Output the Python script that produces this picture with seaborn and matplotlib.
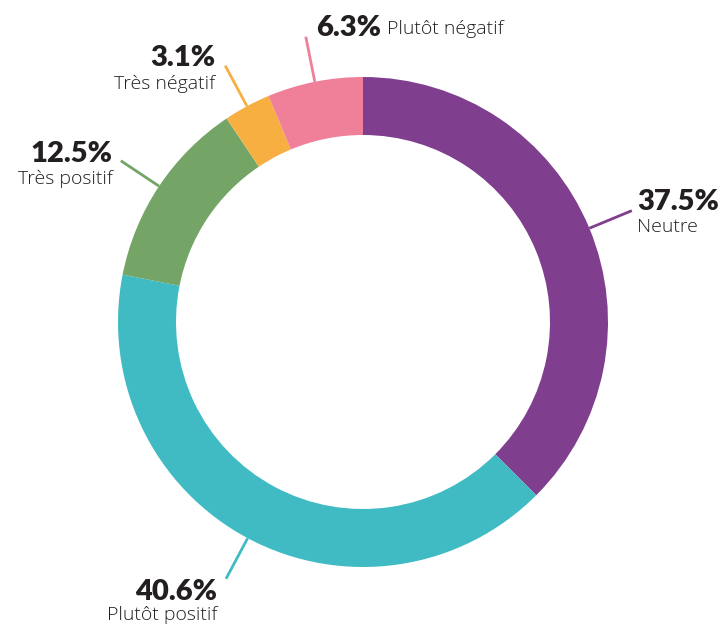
import numpy as np
import matplotlib
matplotlib.use("Agg")
import matplotlib.pyplot as plt
import seaborn as sns

categories = ["Neutre", "Plutôt positif", "Très positif", "Très négatif", "Plutôt négatif"]
values = [37.5, 40.6, 12.5, 3.1, 6.3]
pct_labels = ["37.5%", "40.6%", "12.5%", "3.1%", "6.3%"]

colors = ["#7F3F8E", "#40BBC3", "#74A566", "#F8AF42", "#F07F9A"]

sns.set_theme(style="white")
plt.rcParams["font.family"] = ["Lato", "DejaVu Sans"]
name_font = ["Open Sans", "DejaVu Sans"]

W, H = 724, 624
fig = plt.figure(figsize=(W / 100, H / 100), dpi=100)
ax = fig.add_axes([0, 0, 1, 1])

cx, cy = 363, H - 322
R = 245
ring = 58

wedges, _ = ax.pie(values, colors=colors, startangle=90, counterclock=False,
                   center=(cx, cy), radius=R,
                   wedgeprops=dict(width=ring, linewidth=0), frame=True)
ax.set_xlim(0, W)
ax.set_ylim(0, H)
ax.set_aspect("equal")
ax.axis("off")

R_end = 291
text_color = "#231F20"
# per-label layout: (dx, dy_pct, dy_name, ha, inline)
layout = {
    "Neutre": (5, 9, -16, "left", False),
    "Plutôt positif": (-9, -13, -36, "right", False),
    "Très positif": (-8, 7, -18, "right", False),
    "Très négatif": (-10, 8, -18, "right", False),
    "Plutôt négatif": (10, 9, 0, "left", True),
}

PCT_SIZE = 21
NAME_SIZE = 14

for w, cat, pct, col in zip(wedges, categories, pct_labels, colors):
    ang = np.deg2rad((w.theta1 + w.theta2) / 2)
    x0, y0 = cx + R * np.cos(ang), cy + R * np.sin(ang)
    x1, y1 = cx + R_end * np.cos(ang), cy + R_end * np.sin(ang)
    ax.plot([x0, x1], [y0, y1], color=col, lw=2, solid_capstyle="butt")
    dx, dyp, dyn, ha, inline = layout[cat]
    if inline:
        t = ax.text(x1 + dx, y1 + dyp, pct, ha="left", va="center", fontsize=PCT_SIZE,
                    fontweight="heavy", color=text_color)
        fig.canvas.draw()
        bb = t.get_window_extent()
        ax.text(bb.x1 + 6, y1 + dyp - 1, cat, ha="left", va="center", fontsize=NAME_SIZE,
                color=text_color, family=name_font, fontweight="light")
    else:
        ax.text(x1 + dx, y1 + dyp, pct, ha=ha, va="center", fontsize=PCT_SIZE,
                fontweight="heavy", color=text_color)
        ax.text(x1 + dx, y1 + dyn, cat, ha=ha, va="center", fontsize=NAME_SIZE,
                color=text_color, family=name_font, fontweight="light")

fig.savefig("out.png", dpi=100, facecolor="white")
